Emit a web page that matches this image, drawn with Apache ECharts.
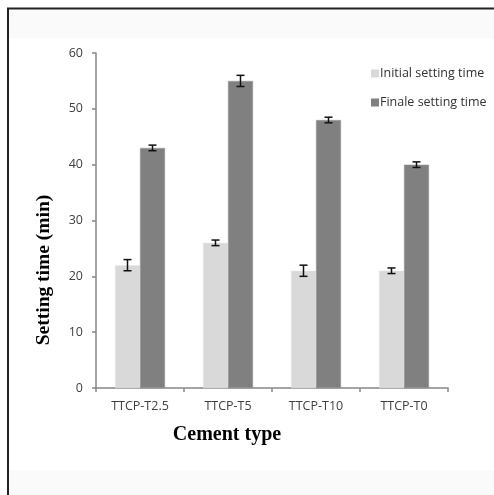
<!DOCTYPE html>
<html><head><meta charset="utf-8">
<script src="https://cdn.jsdelivr.net/npm/echarts@6/dist/echarts.min.js"></script>
<style>html,body{margin:0;padding:0;background:#fff}#c{width:494px;height:495px}</style>
</head><body><div id="c"></div>
<script>
var categories = ['TTCP-T2.5', 'TTCP-T5', 'TTCP-T10', 'TTCP-T0'];
var initialValues = [22, 26, 21, 21];
var initialErrors = [1, 0.5, 1, 0.5];
var finalValues = [43, 55, 48, 40];
var finalErrors = [0.5, 1, 0.5, 0.5];
var yTicks = [0, 10, 20, 30, 40, 50, 60];

var chart = echarts.init(document.getElementById('c'), null, {renderer: 'canvas'});
var BW = 25;
function errSeries(values, errors, offset) {
  return {
    type: 'custom',
    z: 10,
    silent: true,
    data: values.map(function (v, i) { return [i, v - errors[i], v + errors[i]]; }),
    encode: {x: 0, y: [1, 2]},
    renderItem: function (params, api) {
      var lo = api.coord([api.value(0), api.value(1)]);
      var hi = api.coord([api.value(0), api.value(2)]);
      var x = lo[0] + offset;
      var cw = 4;
      var st = {stroke: '#111', lineWidth: 1.5};
      return {type: 'group', children: [
        {type: 'line', shape: {x1: x, y1: lo[1], x2: x, y2: hi[1]}, style: st},
        {type: 'line', shape: {x1: x - cw, y1: lo[1], x2: x + cw, y2: lo[1]}, style: st},
        {type: 'line', shape: {x1: x - cw, y1: hi[1], x2: x + cw, y2: hi[1]}, style: st}
      ]};
    }
  };
}
var labelFont = 'Open Sans';
chart.setOption({
  animation: false,
  backgroundColor: '#fff',
  grid: {left: 96, right: 46, top: 53, bottom: 107, containLabel: false},
  legend: {
    orient: 'vertical', left: 366, top: 62, itemWidth: 8, itemHeight: 8, itemGap: 16,
    icon: 'rect',
    itemStyle: {borderWidth: 0},
    textStyle: {fontFamily: labelFont, fontSize: 12.5, color: '#333', padding: [0, 0, 0, -4]},
    data: ['Initial setting time', 'Finale setting time']
  },
  xAxis: {
    type: 'category', data: categories,
    axisLine: {lineStyle: {color: '#868686', width: 1.5}},
    axisTick: {show: true, length: 4, lineStyle: {color: '#868686', width: 1.5}},
    axisLabel: {fontFamily: labelFont, fontSize: 12.5, color: '#404040', margin: 12}
  },
  yAxis: {
    type: 'value', min: 0, max: 60, interval: 10,
    splitLine: {show: false},
    axisLine: {show: true, lineStyle: {color: '#868686', width: 1.5}},
    axisTick: {show: true, length: 4, lineStyle: {color: '#868686', width: 1.5}},
    axisLabel: {fontFamily: labelFont, fontSize: 12.5, color: '#404040', margin: 13,
      formatter: function (v) { return yTicks.indexOf(v) >= 0 ? String(v) : ''; }}
  },
  graphic: [
    {type: 'rect', z: -10, shape: {x: 9, y: 9, width: 494, height: 29}, style: {fill: '#fafafa'}},
    {type: 'rect', z: -10, shape: {x: 9, y: 470, width: 494, height: 30}, style: {fill: '#fafafa'}},
    {type: 'line', z: 100, shape: {x1: 8, y1: 8, x2: 8, y2: 500}, style: {stroke: '#222', lineWidth: 2}},
    {type: 'line', z: 100, shape: {x1: 7, y1: 8.5, x2: 500, y2: 8.5}, style: {stroke: '#222', lineWidth: 2}},
    {type: 'text', z: 50, x: 227, y: 435,
      style: {text: 'Cement type', x: 0, y: 0, align: 'center', verticalAlign: 'middle',
        font: 'bold 20px "Liberation Serif"', fill: '#000'}},
    {type: 'text', z: 50, x: 44, y: 270, rotation: Math.PI / 2,
      style: {text: 'Setting time (min)', x: 0, y: 0, align: 'center', verticalAlign: 'middle',
        font: 'bold 19.5px "Liberation Serif"', fill: '#000'}}
  ],
  series: [
    {name: 'Initial setting time', type: 'bar', data: initialValues, barWidth: BW, barGap: '0%',
      itemStyle: {color: '#d9d9d9', borderColor: '#e6e6e6', borderWidth: 0.5}},
    {name: 'Finale setting time', type: 'bar', data: finalValues, barWidth: BW, barGap: '0%',
      itemStyle: {color: '#808080', borderColor: '#999999', borderWidth: 0.5}},
    errSeries(initialValues, initialErrors, -BW / 2),
    errSeries(finalValues, finalErrors, BW / 2)
  ]
});
</script></body></html>
